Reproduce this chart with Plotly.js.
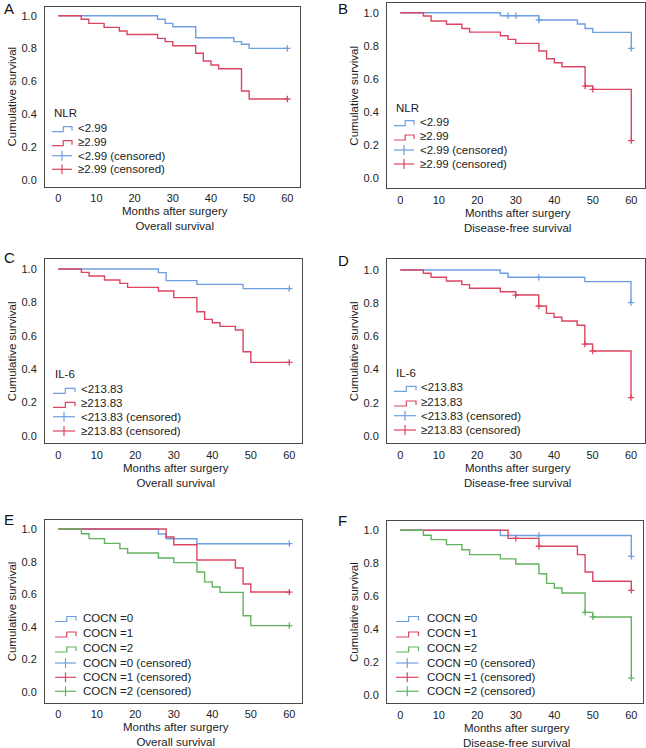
<!DOCTYPE html>
<html>
<head>
<meta charset="utf-8">
<script src="https://cdn.plot.ly/plotly-3.0.1.min.js"></script>
<style>html,body{margin:0;padding:0;background:#fff}#chart{width:646px;height:748px}</style>
</head>
<body>
<div id="chart"></div>
<script>
// ---------------- DATA ----------------
const xTicks = [0, 10, 20, 30, 40, 50, 60];
const yTicks = [0, 0.2, 0.4, 0.6, 0.8, 1.0];

// Panel A: NLR, overall survival
const A_lo_t = [0, 26, 28, 30, 36, 46, 48, 50, 60];
const A_lo_s = [1.0, 0.978, 0.953, 0.933, 0.866, 0.842, 0.826, 0.801, 0.801];
const A_lo_ct = [60];
const A_lo_cs = [0.801];
const A_hi_t = [0, 6, 8, 12, 16, 18, 26, 28, 30, 36, 38, 40, 42, 48, 50, 60];
const A_hi_s = [1.0, 0.978, 0.953, 0.929, 0.907, 0.886, 0.862, 0.842, 0.817, 0.771, 0.724, 0.700, 0.677, 0.542, 0.493, 0.493];
const A_hi_ct = [60];
const A_hi_cs = [0.493];

// Panel B: NLR, disease-free survival
const B_lo_t = [0, 26, 36, 46, 48, 50, 60];
const B_lo_s = [1.0, 0.982, 0.956, 0.932, 0.905, 0.881, 0.785];
const B_lo_ct = [28, 30, 36, 60];
const B_lo_cs = [0.982, 0.982, 0.956, 0.785];
const B_hi_t = [0, 6, 8, 12, 16, 18, 26, 28, 30, 36, 38, 40, 42, 48, 50, 60];
const B_hi_s = [1.0, 0.980, 0.950, 0.930, 0.905, 0.883, 0.861, 0.839, 0.815, 0.769, 0.722, 0.698, 0.674, 0.557, 0.537, 0.227];
const B_hi_ct = [48, 50, 60];
const B_hi_cs = [0.557, 0.537, 0.227];

// Panel C: IL-6, overall survival
const C_lo_t = [0, 26, 28, 36, 48, 60];
const C_lo_s = [1.0, 0.978, 0.930, 0.908, 0.882, 0.882];
const C_lo_ct = [60];
const C_lo_cs = [0.882];
const C_hi_t = [0, 6, 8, 12, 16, 18, 26, 30, 36, 38, 40, 42, 46, 48, 50, 60];
const C_hi_s = [1.0, 0.980, 0.958, 0.934, 0.914, 0.890, 0.868, 0.828, 0.744, 0.698, 0.678, 0.656, 0.634, 0.504, 0.440, 0.440];
const C_hi_ct = [60];
const C_hi_cs = [0.440];

// Panel D: IL-6, disease-free survival
const D_lo_t = [0, 26, 28, 48, 60];
const D_lo_s = [1.0, 0.980, 0.956, 0.930, 0.803];
const D_lo_ct = [36, 60];
const D_lo_cs = [0.956, 0.803];
const D_hi_t = [0, 6, 8, 12, 16, 18, 26, 30, 36, 38, 40, 42, 46, 48, 50, 60];
const D_hi_s = [1.0, 0.980, 0.956, 0.934, 0.912, 0.890, 0.869, 0.849, 0.783, 0.739, 0.715, 0.693, 0.667, 0.554, 0.512, 0.231];
const D_hi_ct = [30, 36, 48, 50, 60];
const D_hi_cs = [0.849, 0.783, 0.554, 0.512, 0.231];

// Panel E: COCN, overall survival
const E_0_t = [0, 26, 28, 36, 60];
const E_0_s = [1.0, 0.969, 0.940, 0.910, 0.910];
const E_0_ct = [60];
const E_0_cs = [0.910];
const E_1_t = [0, 28, 30, 36, 46, 48, 50, 60];
const E_1_s = [1.0, 0.951, 0.904, 0.810, 0.761, 0.663, 0.614, 0.614];
const E_1_ct = [60];
const E_1_cs = [0.614];
const E_2_t = [0, 6, 8, 12, 16, 18, 26, 30, 36, 38, 40, 42, 48, 50, 60];
const E_2_s = [1.0, 0.971, 0.941, 0.912, 0.880, 0.853, 0.822, 0.794, 0.737, 0.676, 0.645, 0.612, 0.469, 0.408, 0.408];
const E_2_ct = [60];
const E_2_cs = [0.408];

// Panel F: COCN, disease-free survival
const F_0_t = [0, 26, 60];
const F_0_s = [1.0, 0.968, 0.842];
const F_0_ct = [36, 60];
const F_0_cs = [0.968, 0.842];
const F_1_t = [0, 28, 36, 46, 48, 50, 60];
const F_1_s = [1.0, 0.951, 0.903, 0.852, 0.746, 0.690, 0.635];
const F_1_ct = [30, 36, 60];
const F_1_cs = [0.951, 0.903, 0.635];
const F_2_t = [0, 6, 8, 12, 16, 18, 26, 30, 36, 38, 40, 42, 48, 50, 60];
const F_2_s = [1.0, 0.970, 0.943, 0.913, 0.882, 0.852, 0.826, 0.795, 0.736, 0.677, 0.649, 0.619, 0.501, 0.473, 0.101];
const F_2_ct = [48, 50, 60];
const F_2_cs = [0.501, 0.473, 0.101];

const nlrLabels = ['<2.99', '≥2.99'];
const il6Labels = ['<213.83', '≥213.83'];
const cocnLabels = ['COCN =0', 'COCN =1', 'COCN =2'];
const panelLetters = ['A', 'B', 'C', 'D', 'E', 'F'];
const xTitleLine1 = 'Months after surgery';
const osTitle = 'Overall survival';
const dfsTitle = 'Disease-free survival';
const yTitle = 'Cumulative survival';

// ---------------- STYLE / LAYOUT ----------------
const W = 646, H = 748;
const BLUE = '#6f9fe3', RED = '#dc4560', GREEN = '#62b35f';
const FONT = 'Liberation Sans, Arial, sans-serif';
const TXT = '#222';
const LBL = 11.5;   // legend / title text size
const TCK = 11;     // tick label size
const px = x => x / W;
const py = y => 1 - y / H;

const panels = [
  {letter: panelLetters[0], box: [45, 6.7, 300, 186.7], x0: 58.3, x60: 287.3, y1: 15.7, y0: 180, sub: osTitle,
   lgTitle: 'NLR', lgTitleY: 113.3, rows: [127.7, 141.7, 155.7, 169.3], gl: 52, gr: 72, tx: 75.5, letterPos: [2, 8.5],
   series: [{t: A_lo_t, s: A_lo_s, ct: A_lo_ct, cs: A_lo_cs, c: BLUE, name: nlrLabels[0]},
            {t: A_hi_t, s: A_hi_s, ct: A_hi_ct, cs: A_hi_cs, c: RED, name: nlrLabels[1]}]},
  {letter: panelLetters[1], box: [387, 3.3, 644.7, 188.3], x0: 400.3, x60: 631.3, y1: 12.7, y0: 178.3, sub: dfsTitle,
   lgTitle: 'NLR', lgTitleY: 108.3, rows: [121.7, 136, 150, 164], gl: 394, gr: 414, tx: 417.5, letterPos: [336, 8],
   series: [{t: B_lo_t, s: B_lo_s, ct: B_lo_ct, cs: B_lo_cs, c: BLUE, name: nlrLabels[0]},
            {t: B_hi_t, s: B_hi_s, ct: B_hi_ct, cs: B_hi_cs, c: RED, name: nlrLabels[1]}]},
  {letter: panelLetters[2], box: [45, 259.3, 302.3, 443.3], x0: 58.3, x60: 289.3, y1: 269, y0: 435.7, sub: osTitle,
   lgTitle: 'IL-6', lgTitleY: 374.3, rows: [389.3, 403.3, 416.7, 431], gl: 53, gr: 75, tx: 78.5, letterPos: [2, 257.5],
   series: [{t: C_lo_t, s: C_lo_s, ct: C_lo_ct, cs: C_lo_cs, c: BLUE, name: il6Labels[0]},
            {t: C_hi_t, s: C_hi_s, ct: C_hi_ct, cs: C_hi_cs, c: RED, name: il6Labels[1]}]},
  {letter: panelLetters[3], box: [387, 259.3, 644.7, 443.3], x0: 400.3, x60: 631, y1: 270, y0: 436, sub: dfsTitle,
   lgTitle: 'IL-6', lgTitleY: 373.3, rows: [387.3, 402, 415.7, 430], gl: 394, gr: 416, tx: 419, letterPos: [336, 260],
   series: [{t: D_lo_t, s: D_lo_s, ct: D_lo_ct, cs: D_lo_cs, c: BLUE, name: il6Labels[0]},
            {t: D_hi_t, s: D_hi_s, ct: D_hi_ct, cs: D_hi_cs, c: RED, name: il6Labels[1]}]},
  {letter: panelLetters[4], box: [45, 520, 302.3, 703], x0: 58.3, x60: 289.3, y1: 529, y0: 692.3, sub: osTitle,
   lgTitle: null, rows: [617.5, 633, 648, 663, 677.3, 691.3], gl: 55, gr: 76, tx: 80.5, letterPos: [2, 519],
   series: [{t: E_0_t, s: E_0_s, ct: E_0_ct, cs: E_0_cs, c: BLUE, name: cocnLabels[0]},
            {t: E_1_t, s: E_1_s, ct: E_1_ct, cs: E_1_cs, c: RED, name: cocnLabels[1]},
            {t: E_2_t, s: E_2_s, ct: E_2_ct, cs: E_2_cs, c: GREEN, name: cocnLabels[2]}]},
  {letter: panelLetters[5], box: [387, 521, 642.7, 703.3], x0: 400.3, x60: 631.3, y1: 530.3, y0: 694.7, sub: dfsTitle,
   lgTitle: null, rows: [617.5, 633, 648, 663, 677.3, 691.3], gl: 396, gr: 418.5, tx: 425, letterPos: [336, 520.5],
   series: [{t: F_0_t, s: F_0_s, ct: F_0_ct, cs: F_0_cs, c: BLUE, name: cocnLabels[0]},
            {t: F_1_t, s: F_1_s, ct: F_1_ct, cs: F_1_cs, c: RED, name: cocnLabels[1]},
            {t: F_2_t, s: F_2_s, ct: F_2_ct, cs: F_2_cs, c: GREEN, name: cocnLabels[2]}]}
];

const traces = [];
const shapes = [];
const annotations = [];
const layout = {
  width: W, height: H,
  margin: {l: 0, r: 0, t: 0, b: 0},
  paper_bgcolor: '#fff', plot_bgcolor: '#fff',
  showlegend: false,
  font: {family: FONT, size: TCK, color: TXT}
};

panels.forEach((p, i) => {
  const n = i + 1;
  const xa = n === 1 ? 'x' : 'x' + n;
  const ya = n === 1 ? 'y' : 'y' + n;
  const [L, T, R, B] = p.box;
  const kx = (p.x60 - p.x0) / 60;
  const ky = (p.y0 - p.y1);
  layout[(n === 1 ? 'xaxis' : 'xaxis' + n)] = {
    domain: [px(L), px(R)], anchor: ya,
    range: [(L - p.x0) / kx, (R - p.x0) / kx],
    tickvals: xTicks, ticks: '', showgrid: false, zeroline: false,
    showline: true, mirror: true, linecolor: '#4a4a4a', linewidth: 1,
    tickfont: {family: FONT, size: TCK, color: TXT}, ticklabelstandoff: 1,
    fixedrange: true
  };
  layout[(n === 1 ? 'yaxis' : 'yaxis' + n)] = {
    domain: [py(B), py(T)], anchor: xa,
    range: [(p.y0 - B) / ky, (p.y0 - T) / ky],
    tickvals: yTicks, tickformat: '.1f', ticks: '', showgrid: false, zeroline: false,
    showline: true, mirror: true, linecolor: '#4a4a4a', linewidth: 1,
    tickfont: {family: FONT, size: TCK, color: TXT}, ticklabelstandoff: 5,
    title: {text: yTitle, font: {family: FONT, size: LBL, color: TXT}, standoff: 2},
    fixedrange: true
  };

  // x-axis title (two lines) placed under the panel
  annotations.push({xref: 'paper', yref: 'paper', x: px((L + R) / 2 + 2), y: py(B + 31.8),
    xanchor: 'center', yanchor: 'middle', showarrow: false,
    text: xTitleLine1 + '<br>' + p.sub, font: {family: FONT, size: LBL, color: TXT}});

  // curves
  p.series.forEach(s => {
    traces.push({type: 'scatter', mode: 'lines', x: s.t, y: s.s, xaxis: xa, yaxis: ya,
      line: {shape: 'hv', color: s.c, width: 1.4}, name: s.name, hoverinfo: 'skip'});
  });
  p.series.forEach(s => {
    traces.push({type: 'scatter', mode: 'markers', x: s.ct, y: s.cs, xaxis: xa, yaxis: ya,
      marker: {symbol: 'cross-thin', size: 4.5, line: {color: s.c, width: 1.3}, color: s.c},
      name: s.name + ' (censored)', hoverinfo: 'skip'});
  });

  // panel letter
  annotations.push({xref: 'paper', yref: 'paper', x: px(p.letterPos[0]), y: py(p.letterPos[1]),
    xanchor: 'left', yanchor: 'middle', showarrow: false, text: p.letter,
    font: {family: FONT, size: 15, color: '#111'}});

  // legend (drawn inside the plot box)
  if (p.lgTitle) {
    annotations.push({xref: 'paper', yref: 'paper', x: px(p.gl), y: py(p.lgTitleY),
      xanchor: 'left', yanchor: 'middle', showarrow: false, text: p.lgTitle,
      font: {family: FONT, size: LBL, color: TXT}});
  }
  const items = [];
  p.series.forEach(s => items.push({kind: 'step', c: s.c, label: s.name}));
  p.series.forEach(s => items.push({kind: 'cens', c: s.c, label: s.name + ' (censored)'}));
  items.forEach((it, k) => {
    const c = p.rows[k];
    const gl = p.gl, gr = p.gr, gm = gl + 0.56 * (gr - gl), gmid = (gl + gr) / 2;
    if (it.kind === 'step') {
      shapes.push({type: 'path', xref: 'paper', yref: 'paper',
        path: `M ${px(gl)},${py(c + 4)} L ${px(gm)},${py(c + 4)} L ${px(gm)},${py(c - 1)} L ${px(gr)},${py(c - 1)} L ${px(gr)},${py(c + 3)}`,
        line: {color: it.c, width: 1.2}});
    } else {
      shapes.push({type: 'line', xref: 'paper', yref: 'paper', x0: px(gl), x1: px(gr), y0: py(c), y1: py(c),
        line: {color: it.c, width: 1.2}});
      shapes.push({type: 'line', xref: 'paper', yref: 'paper', x0: px(gmid), x1: px(gmid), y0: py(c - 5), y1: py(c + 5),
        line: {color: it.c, width: 1.2}});
    }
    annotations.push({xref: 'paper', yref: 'paper', x: px(p.tx), y: py(c),
      xanchor: 'left', yanchor: 'middle', showarrow: false, text: it.label,
      font: {family: FONT, size: LBL, color: TXT}});
  });
});

layout.shapes = shapes;
layout.annotations = annotations;

Plotly.newPlot('chart', traces, layout, {displayModeBar: false, staticPlot: true});
</script>
</body>
</html>
